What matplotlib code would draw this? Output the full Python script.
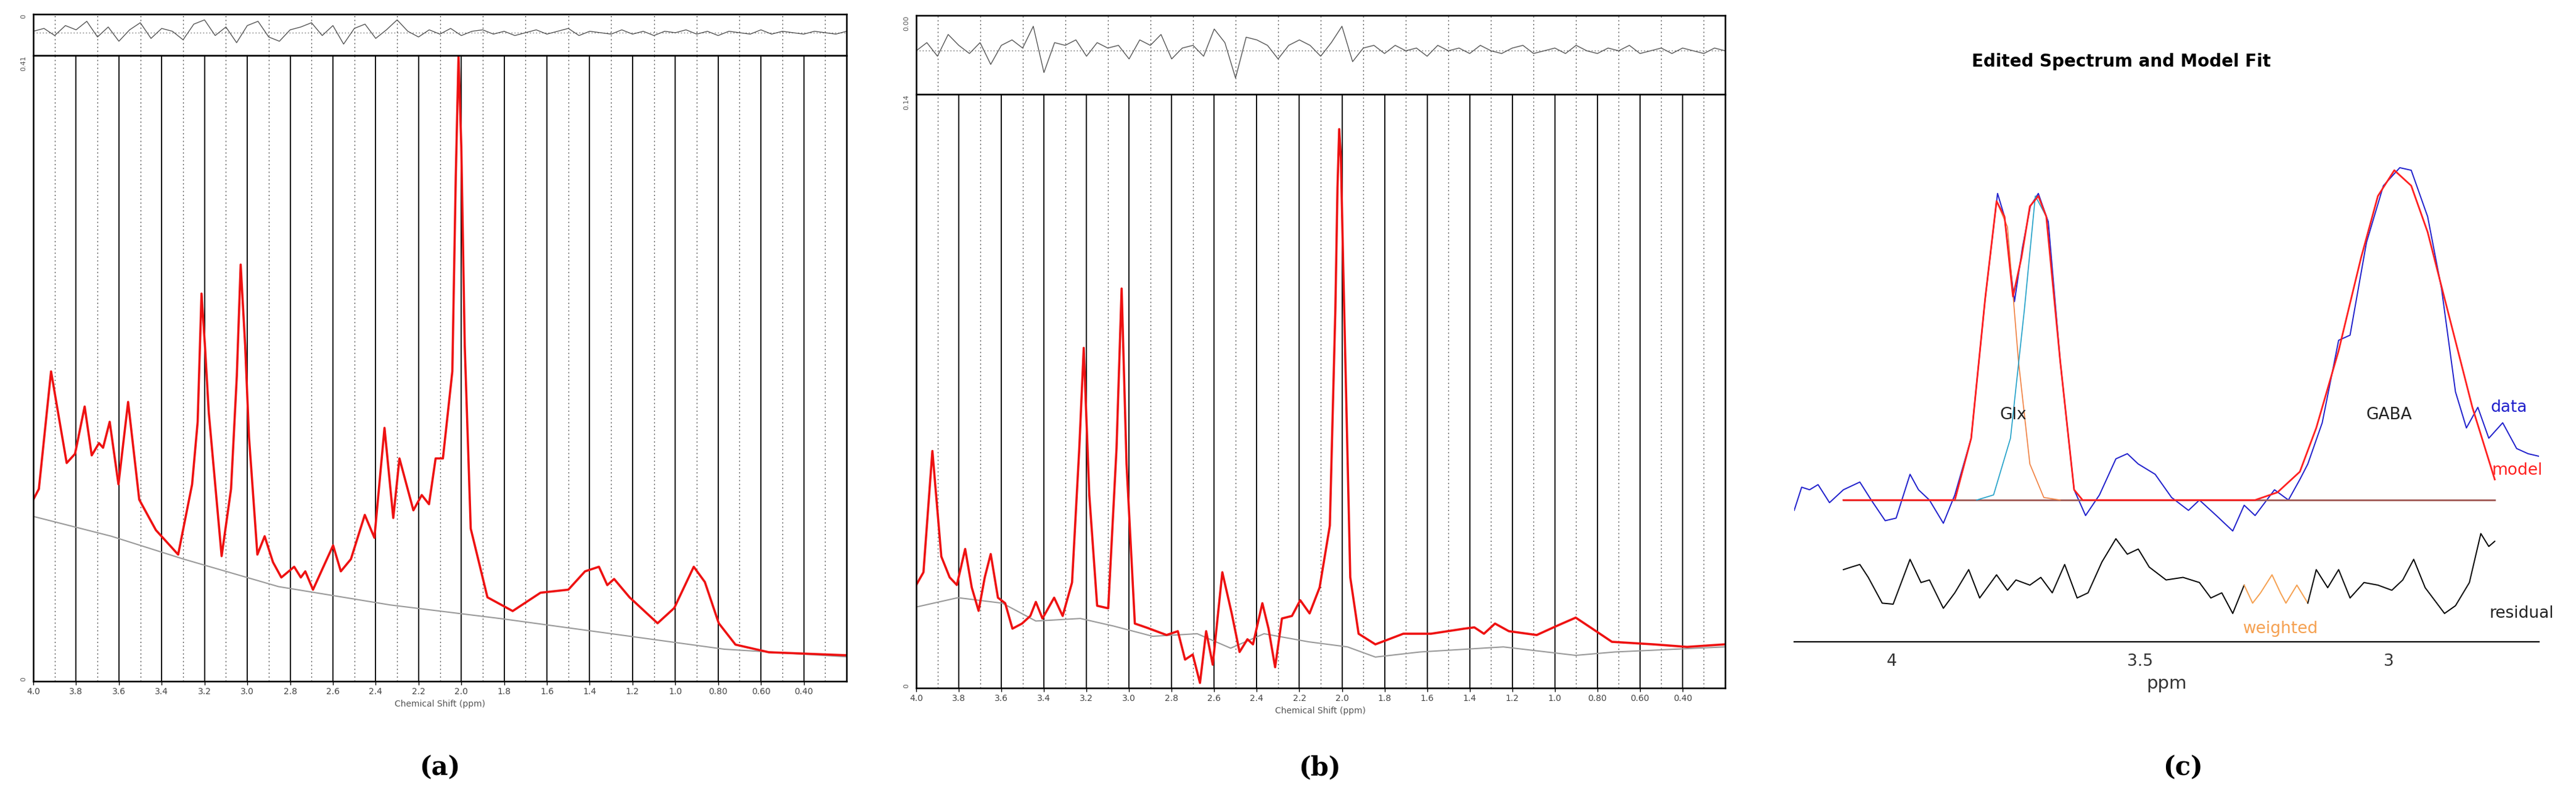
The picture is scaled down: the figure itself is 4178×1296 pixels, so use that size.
import numpy as np
import matplotlib
matplotlib.use("Agg")
import matplotlib.pyplot as plt

# ---------------- Panel (a) data ----------------
a_ppm = [4.000,3.974,3.917,3.844,3.805,3.760,3.727,3.693,3.674,3.643,3.602,3.557,3.505,3.427,3.323,3.258,3.232,3.214,3.198,3.180,3.120,3.076,3.049,3.031,3.010,2.992,2.953,2.919,2.880,2.841,2.781,2.750,2.729,2.693,2.651,2.599,2.563,2.516,2.451,2.406,2.359,2.318,2.289,2.224,2.185,2.151,2.120,2.086,2.042,2.026,2.013,2.000,1.984,1.956,1.878,1.760,1.630,1.500,1.422,1.357,1.318,1.286,1.214,1.083,1.005,0.914,0.862,0.797,0.719,0.563,0.380,0.198]
a_fit = [0.119,0.126,0.203,0.143,0.149,0.180,0.148,0.156,0.153,0.170,0.129,0.183,0.119,0.099,0.083,0.129,0.170,0.254,0.220,0.176,0.082,0.126,0.200,0.273,0.220,0.160,0.083,0.095,0.078,0.068,0.075,0.068,0.072,0.060,0.073,0.089,0.072,0.080,0.109,0.094,0.166,0.107,0.146,0.112,0.122,0.116,0.146,0.146,0.203,0.330,0.410,0.350,0.220,0.100,0.055,0.046,0.058,0.060,0.072,0.075,0.063,0.067,0.055,0.038,0.048,0.075,0.065,0.038,0.024,0.019,0.018,0.017]
a_base_ppm = [4.000,3.635,3.297,2.854,2.333,1.813,1.292,0.771,0.198]
a_base = [0.108,0.095,0.080,0.062,0.050,0.041,0.031,0.021,0.016]
a_resid = [0.1,0.3,-0.2,0.5,0.2,0.8,-0.3,0.4,-0.6,0.2,0.7,-0.4,0.3,0.1,-0.5,0.6,0.9,-0.2,0.4,-0.7,
           0.5,0.8,-0.3,-0.6,0.2,0.4,0.7,-0.2,0.5,-0.8,0.3,0.6,-0.4,0.2,0.9,0.1,-0.3,0.2,-0.1,0.3,
           -0.2,0.1,0.2,-0.1,0.1,-0.2,0.0,0.2,-0.1,0.1,0.3,-0.2,0.1,0.0,-0.1,0.2,-0.1,0.1,-0.2,0.1,
           0.0,0.2,-0.1,0.1,-0.2,0.1,0.0,-0.1,0.2,-0.1,0.1,0.0,-0.1,0.1,0.0,-0.1,0.1]

# ---------------- Panel (b) data ----------------
b_ppm = [4.000,3.966,3.924,3.882,3.843,3.809,3.770,3.739,3.707,3.678,3.650,3.616,3.582,3.548,3.503,3.464,3.438,3.407,3.352,3.312,3.268,3.234,3.213,3.187,3.150,3.098,3.059,3.035,3.012,2.973,2.915,2.824,2.771,2.737,2.701,2.667,2.638,2.607,2.562,2.518,2.481,2.444,2.418,2.374,2.345,2.314,2.282,2.235,2.196,2.152,2.105,2.057,2.031,2.021,2.013,2.005,1.995,1.961,1.922,1.843,1.712,1.582,1.425,1.378,1.333,1.281,1.216,1.085,0.993,0.902,0.824,0.732,0.536,0.379,0.201]
b_fit = [0.0243,0.0273,0.0559,0.0310,0.0261,0.0243,0.0328,0.0237,0.0182,0.0261,0.0316,0.0213,0.0200,0.0140,0.0152,0.0170,0.0203,0.0164,0.0213,0.0170,0.0249,0.0565,0.0802,0.0456,0.0194,0.0188,0.0565,0.0942,0.0529,0.0152,0.0142,0.0125,0.0134,0.0067,0.0079,0.0012,0.0134,0.0055,0.0273,0.0176,0.0085,0.0115,0.0103,0.0200,0.0140,0.0049,0.0164,0.0170,0.0207,0.0176,0.0237,0.0383,0.0893,0.1180,0.1318,0.1250,0.1015,0.0261,0.0128,0.0103,0.0128,0.0128,0.0140,0.0143,0.0128,0.0152,0.0134,0.0125,0.0146,0.0166,0.0140,0.0109,0.0103,0.0097,0.0103]
b_base_ppm = [4.000,3.804,3.595,3.438,3.229,3.072,2.889,2.680,2.523,2.366,2.157,1.974,1.843,1.634,1.242,0.902,0.719,0.201]
b_base = [0.0191,0.0213,0.0200,0.0158,0.0164,0.0146,0.0122,0.0128,0.0094,0.0128,0.0109,0.0097,0.0073,0.0085,0.0097,0.0077,0.0085,0.0097]
b_resid = [0.0,0.3,-0.2,0.6,0.2,-0.1,0.3,-0.5,0.2,0.4,0.1,0.9,-0.8,0.3,0.2,0.4,-0.2,0.3,0.1,0.2,
           -0.3,0.4,0.2,0.6,-0.3,0.1,0.2,-0.2,0.8,0.3,-1.0,0.5,0.4,0.2,-0.3,0.2,0.4,0.2,-0.2,0.3,
           0.9,-0.4,0.1,0.2,-0.1,0.2,0.0,0.1,-0.2,0.2,0.0,0.1,-0.1,0.2,0.0,-0.1,0.1,0.2,-0.1,0.0,
           0.1,-0.1,0.2,0.0,-0.1,0.1,0.0,0.2,-0.1,0.0,0.1,-0.1,0.1,0.0,-0.1,0.1,0.0]

# ---------------- Panel (c) data ----------------
c_model_ppm = [4.097,3.873,3.840,3.812,3.789,3.773,3.756,3.739,3.722,3.705,3.689,3.661,3.633,3.616,3.269,3.224,3.179,3.146,3.101,3.056,3.022,2.989,2.955,2.922,2.877,2.832,2.787]
c_model = [0,0,1.20,3.90,5.80,5.50,3.95,4.70,5.70,5.90,5.50,2.70,0.20,0,0,0.15,0.55,1.40,2.90,4.70,5.90,6.40,6.10,5.20,3.50,1.80,0.40]
c_data_ppm = [4.196,4.181,4.165,4.148,4.125,4.097,4.064,4.041,4.013,3.991,3.963,3.946,3.924,3.896,3.873,3.840,3.812,3.787,3.773,3.753,3.737,3.721,3.705,3.685,3.661,3.633,3.610,3.582,3.549,3.526,3.504,3.470,3.437,3.403,3.381,3.347,3.314,3.291,3.269,3.230,3.202,3.179,3.163,3.134,3.101,3.078,3.045,3.011,2.978,2.955,2.922,2.894,2.866,2.844,2.821,2.799,2.771,2.743,2.720,2.698]
c_data = [-0.20,0.25,0.20,0.30,-0.05,0.20,0.35,0,-0.40,-0.35,0.50,0.20,0,-0.45,0.10,1.20,3.90,5.95,5.50,3.85,4.90,5.70,5.95,5.40,2.70,0.20,-0.30,0.10,0.80,0.90,0.70,0.50,0.05,-0.20,0,-0.30,-0.60,-0.10,-0.30,0.20,0,0.40,0.70,1.50,3.10,3.20,5.00,6.10,6.45,6.40,5.50,4.10,2.10,1.40,1.80,1.20,1.50,1.00,0.90,0.85]
c_glx1_ppm = [3.873,3.840,3.812,3.789,3.767,3.745,3.722,3.694,3.661]
c_glx1 = [0,1.20,3.90,5.80,5.30,2.70,0.70,0.05,0]
c_glx2_ppm = [3.829,3.795,3.761,3.733,3.711,3.689,3.661,3.633,3.616]
c_glx2 = [0,0.10,1.20,3.70,5.90,5.50,2.70,0.20,0]
c_base_ppm = [4.097,2.787]
c_base = [0,0]
c_res1_ppm = [4.097,4.081,4.064,4.047,4.019,3.997,3.963,3.941,3.924,3.896,3.873,3.845,3.823,3.789,3.767,3.750,3.722,3.700,3.677,3.652,3.627,3.605,3.577,3.549,3.526,3.504,3.482,3.448,3.414,3.381,3.358,3.336,3.314,3.291]
c_res1 = [-1.35,-1.30,-1.25,-1.50,-2.00,-2.02,-1.15,-1.60,-1.55,-2.10,-1.80,-1.35,-1.90,-1.45,-1.75,-1.55,-1.65,-1.50,-1.80,-1.25,-1.90,-1.80,-1.20,-0.75,-1.05,-0.95,-1.30,-1.55,-1.50,-1.60,-1.90,-1.80,-2.20,-1.65]
c_wres_ppm = [3.291,3.274,3.258,3.235,3.218,3.207,3.185,3.163]
c_wres = [-1.65,-2.00,-1.80,-1.45,-1.80,-2.00,-1.65,-2.00]
c_res2_ppm = [3.163,3.146,3.123,3.101,3.078,3.050,3.022,2.994,2.972,2.950,2.927,2.888,2.866,2.838,2.815,2.799,2.787]
c_res2 = [-2.00,-1.35,-1.70,-1.35,-1.90,-1.60,-1.65,-1.75,-1.55,-1.15,-1.70,-2.20,-2.05,-1.60,-0.65,-0.90,-0.80]
c_ticks = [4, 3.5, 3]
c_ticklabels = ["4", "3.5", "3"]

lcm_ticks = [4.0,3.8,3.6,3.4,3.2,3.0,2.8,2.6,2.4,2.2,2.0,1.8,1.6,1.4,1.2,1.0,0.8,0.6,0.4]
lcm_labels = ["4.0","3.8","3.6","3.4","3.2","3.0","2.8","2.6","2.4","2.2","2.0","1.8","1.6","1.4","1.2","1.0","0.80","0.60","0.40"]
minor_ticks = [3.9,3.7,3.5,3.3,3.1,2.9,2.7,2.5,2.3,2.1,1.9,1.7,1.5,1.3,1.1,0.9,0.7,0.5,0.3]

W, H = 4178, 1296
fig = plt.figure(figsize=(W/100, H/100), dpi=100)

def ax_px(l, t, r, b):
    return fig.add_axes([l/W, 1-b/H, (r-l)/W, (b-t)/H])

def lcm_panel(l, r, top, mid, bot, ppm, fit, bppm, base, resid, ymax, toplabel, midlabel, rtop):
    axr = ax_px(l, top, r, mid)
    axm = ax_px(l, mid, r, bot)
    for ax in (axr, axm):
        ax.set_xlim(4.0, 0.2)
        for s in ax.spines.values():
            s.set_linewidth(1.8); s.set_color("black")
        for m in minor_ticks:
            ax.axvline(m, color="#555555", lw=1.0, ls=(0, (1.5, 3)))
    for t in lcm_ticks[1:]:
        axm.axvline(t, color="#111111", lw=1.4)
    rppm = np.linspace(4.0, 0.2, len(resid))
    axr.plot(rppm, resid, color="#555555", lw=1.0)
    axr.axhline(0, color="#555555", lw=0.8, ls=(0, (1.5, 3)))
    axr.set_ylim(-1.6, 1.3)
    axr.set_xticks([]); axr.set_yticks([])
    axr.text(-0.008, 1.0, rtop, transform=axr.transAxes, rotation=90, ha="right", va="top", fontsize=8, color="#555555")
    axm.plot(bppm, base, color="#9a9a9a", lw=1.5)
    axm.plot(ppm, fit, color="#ee1111", lw=2.6)
    axm.set_ylim(0, ymax)
    axm.set_yticks([])
    axm.text(-0.008, 1.0, midlabel, transform=axm.transAxes, rotation=90, ha="right", va="top", fontsize=8, color="#555555")
    axm.text(-0.008, 0.0, "0", transform=axm.transAxes, rotation=90, ha="right", va="bottom", fontsize=8, color="#555555")
    axm.set_xticks(lcm_ticks)
    axm.set_xticklabels(lcm_labels, fontsize=10, color="#444444")
    axm.tick_params(axis="x", length=4, width=1)
    axm.set_xlabel("Chemical Shift (ppm)", fontsize=10, color="#555555", labelpad=4)

lcm_panel(54, 1373, 23, 90, 1105, a_ppm, a_fit, a_base_ppm, a_base, a_resid, 0.41, "0", "0.41", "0")
lcm_panel(1486, 2798, 25, 153, 1116, b_ppm, b_fit, b_base_ppm, b_base, b_resid, 0.14, "0.00", "0.14", "0.00")

# ---- panel (c)
axc = ax_px(2910, 226, 4118, 1041)
axc.set_xlim(4.196, 2.698)
axc.set_ylim(-2.75, 7.0)
for k in ("top", "right", "left"):
    axc.spines[k].set_visible(False)
axc.spines["bottom"].set_linewidth(1.6)
axc.set_yticks([])
axc.set_xticks(c_ticks)
axc.set_xticklabels(c_ticklabels, fontsize=19, color="#333333")
axc.tick_params(axis="x", length=0, pad=14)
axc.set_xlabel("ppm", fontsize=21, color="#333333", labelpad=6)
axc.plot(c_data_ppm, c_data, color="#2020cc", lw=1.4)
axc.plot(c_base_ppm, c_base, color="#a05a55", lw=2.0)
axc.plot(c_glx1_ppm, c_glx1, color="#f08040", lw=1.2)
axc.plot(c_glx2_ppm, c_glx2, color="#20a0c8", lw=1.2)
axc.plot(c_model_ppm, c_model, color="#ff2020", lw=2.0)
axc.plot(c_res1_ppm, c_res1, color="black", lw=1.4)
axc.plot(c_wres_ppm, c_wres, color="#f5a050", lw=1.4)
axc.plot(c_res2_ppm, c_res2, color="black", lw=1.4)
axc.text(3.755, 1.65, "Glx", fontsize=19, ha="center", va="center", color="#222222")
axc.text(3.0, 1.65, "GABA", fontsize=19, ha="center", va="center", color="#222222")
axc.text(2.795, 1.80, "data", fontsize=19, ha="left", va="center", color="#2020cc")
axc.text(2.793, 0.58, "model", fontsize=19, ha="left", va="center", color="#ff2020")
axc.text(2.798, -2.20, "residual", fontsize=19, ha="left", va="center", color="#222222")
axc.text(3.218, -2.50, "weighted", fontsize=19, ha="center", va="center", color="#f5a050")
fig.text(3441/W, 1-100/H, "Edited Spectrum and Model Fit", fontsize=20, fontweight="bold", ha="center", va="center")

for x, lab in [(713, "(a)"), (2140, "(b)"), (3540, "(c)")]:
    fig.text(x/W, 1-1245/H, lab, fontsize=30, fontweight="bold", family="DejaVu Serif", ha="center", va="center")

fig.savefig("out.png", dpi=100)
